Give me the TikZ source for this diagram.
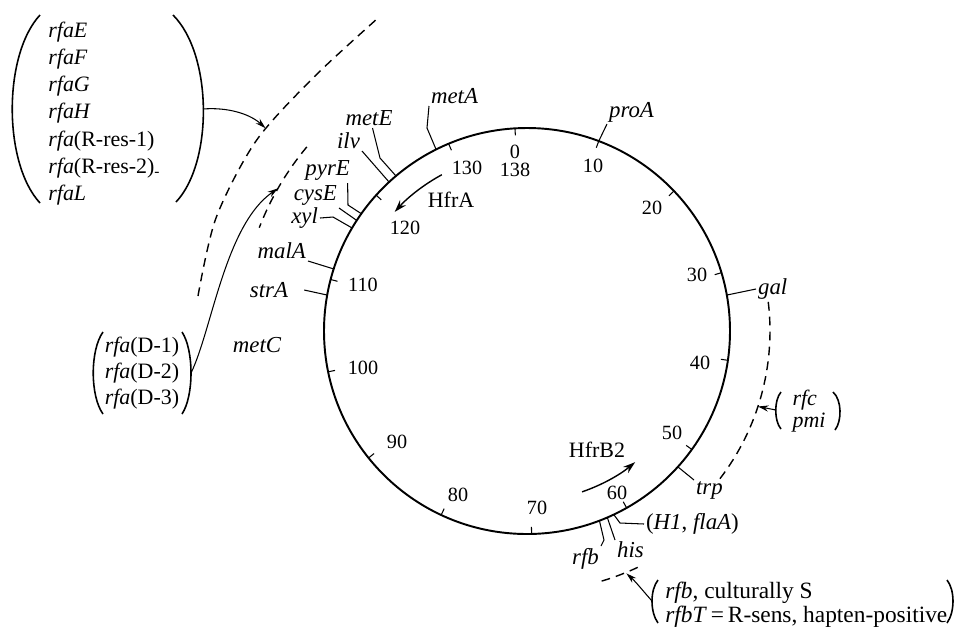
\documentclass[tikz,border=0pt]{standalone}
\usepackage{fontspec}
\setmainfont{Liberation Serif}
\usepackage{tikz}
\usetikzlibrary{arrows.meta}
\newcommand{\genesize}{\fontsize{13}{15}\selectfont}
\newcommand{\numsize}{\fontsize{11.5}{12}\selectfont}

\begin{document}
\begin{tikzpicture}[
        x=0.02cm, y=-0.02cm,
        gene/.style={font=\genesize\itshape, inner sep=1pt},
        num/.style={font=\numsize, inner sep=0pt},
        hfr/.style={font=\fontsize{12.5}{14}\selectfont, inner sep=0pt},
        rfalist/.style={align=left, inner sep=0pt, font=\fontsize{12.5}{15.4}\selectfont},
        marker/.style={line width=0.6pt},
        region/.style={line width=0.8pt, dash pattern=on 5pt off 3.5pt},
        paren/.style={line width=0.9pt},
        pointer/.style={line width=0.6pt, -{Stealth[length=6pt,width=3.5pt]}},
        transfer/.style={line width=0.8pt, -{Stealth[length=7pt,width=4.5pt]}}
    ]
    \useasboundingbox (0,0) rectangle (954,627);

    \begin{scope}[shift={(527,331)}]
        \draw[line width=1.1pt] (0,0) circle[radius=203];
        \foreach \a in {-93.4,-69.3,-43.6,-16.7,8.3,35.7,60.6,88.7,115,141.3,168.4,194.7,222,247.3}
            \draw[marker] (\a:196) -- (\a:203);
        \foreach \g/\a in {ProA/-69.3, MetA/-116.6, MetE/-130.2, Ilv/-132.8, PyrE/-144.7, CysE/-147, Xyl/-149.5, MalA/-162.2, StrA/-169.8, Gal/-10.2, Trp/42, FlaA/64.7, His/66.7, Rfb/69.1}
            \coordinate (p\g) at (\a:203);
        \draw[transfer] (-118.6:178) arc[start angle=-118.6, end angle=-138, radius=178];
        \draw[transfer] (71.1:170) arc[start angle=71.1, end angle=50.5, radius=170];
        \draw[region] (-6.9:243) arc[start angle=-6.9, end angle=37.6, radius=243];
        \draw[region] (64.9:261) arc[start angle=64.9, end angle=73.4, radius=261];
        \draw[region] (-140.1:287) arc[start angle=-140.1, end angle=-158.9, radius=287];
        \coordinate (rfcTip) at (18.1:243);
        \coordinate (rfbTip) at (67.7:262);
        \coordinate (innerTip) at (-150.2:287);
        \coordinate (outerTip) at (-142.2:331);
    \end{scope}
    \draw[region] plot[smooth] coordinates {(198,296) (216,218) (256,141) (314,77) (378,18)};

    \foreach \n/\px/\py in {10/593/166, 20/652/208, 30/697/275, 40/700/363, 50/672/433, 60/617/493, 70/537/508, 80/458/495, 90/397/442, 100/363/368, 110/363/285, 120/405/228, 130/467/168}
        \node[num] (t\n) at (\px,\py) {\n};
    \node[num] (t0) at (515,152) {0};
    \node[num] (t138) at (515,170) {138};

    \node[hfr] (hfrA) at (451,200) {HfrA};
    \node[hfr] (hfrB) at (597,450) {HfrB2};

    \node[gene, anchor=south west] (proA) at (607,124) {proA};
    \node[gene, anchor=south west] (metA) at (429,106) {metA};
    \node[gene, anchor=south] (metE) at (369,128) {metE};
    \node[gene, anchor=south east] (ilv) at (362,151) {ilv};
    \node[gene, anchor=south east] (pyrE) at (352,183) {pyrE};
    \node[gene, anchor=south east] (cysE) at (339,208) {cysE};
    \node[gene, anchor=east] (xyl) at (320,218) {xyl};
    \node[gene, anchor=south east] (malA) at (308,261) {malA};
    \node[gene] (strA) at (269,290) {strA};
    \node[gene] (metC) at (257,345) {metC};
    \node[gene, anchor=west] (gal) at (756,289) {gal};
    \node[gene, anchor=north west] (trp) at (694,480) {trp};
    \node[gene, anchor=west, font=\genesize] (flaA) at (644,524) {(\textit{H1}, \textit{flaA})};
    \node[gene, anchor=north west] (his) at (615,540) {his};
    \node[gene, anchor=north east] (rfb) at (601,546) {rfb};

    \draw[marker] (pProA) -- (proA.south west);
    \draw[marker] (pMetA) -- (427,128) -- (metA.south west);
    \draw[marker] (pMetE) -- (380,158) -- ([xshift=2pt]metE.south);
    \draw[marker] (pIlv) -- (ilv.south east);
    \draw[marker] (pPyrE) -- (348,205) -- ([xshift=-2.5pt]pyrE.south east);
    \draw[marker] (pCysE) -- (cysE.south east);
    \draw[marker] (pXyl) -- (333,217) -- (xyl.east);
    \draw[marker] (pMalA) -- (malA.south east);
    \draw[marker] (pStrA) -- ([xshift=8pt]strA.east);
    \draw[marker] (pGal) -- (gal.west);
    \draw[marker] (pTrp) -- (trp.north west);
    \draw[marker] (pFlaA) -- (620,523) -- (flaA.west);
    \draw[marker] (pHis) -- (his.north west);
    \draw[marker] (pRfb) -- (604,540) -- (rfb.north east);

    \node[rfalist, anchor=north west] (rfaList) at (48,22) {\textit{rfaE}\\ \textit{rfaF}\\ \textit{rfaG}\\ \textit{rfaH}\\ \textit{rfa}(R-res-1)\\ \textit{rfa}(R-res-2)\textsubscript{-}\\ \textit{rfaL}};
    \draw[paren] (40,15) .. controls (3,55) and (3,163) .. (40,203);
    \draw[paren] (173,15) .. controls (213,55) and (213,163) .. (176,202);
    \coordinate (rfaOut) at (203,109);
    \draw[pointer] (rfaOut) .. controls (228,107) and (250,114) .. (outerTip);

    \node[rfalist, font=\fontsize{12.5}{15}\selectfont] (rfaD) at (142,373) {\textit{rfa}(D-1)\\ \textit{rfa}(D-2)\\ \textit{rfa}(D-3)};
    \draw[paren] (103,332) .. controls (90,350) and (90,396) .. (103,414);
    \draw[paren] (182,332) .. controls (194,350) and (194,396) .. (182,414);
    \coordinate (rfaDOut) at (191,373);
    \draw[pointer] (rfaDOut) .. controls (212,330) and (225,225) .. (innerTip);

    \node[rfalist, font=\fontsize{12.5}{12.5}\selectfont\itshape] (rfcList) at (809,411) {rfc\\ pmi};
    \draw[paren] (781,392) .. controls (774,400) and (774,421) .. (781,429);
    \draw[paren] (833,392) .. controls (842,400) and (842,421) .. (835,430);
    \coordinate (rfcOut) at (776,410);
    \draw[pointer] (rfcOut) -- (rfcTip);

    \node[rfalist, anchor=north west, font=\fontsize{13.3}{11.3}\selectfont] (rfbList) at (665,582) {\textit{rfb}, culturally S\\ \textit{rfbT}\,=\,R-sens, hapten-positive};
    \draw[paren] (658,580) .. controls (650,590) and (650,612) .. (658,623);
    \draw[paren] (947,580) .. controls (955,590) and (955,612) .. (947,623);
    \coordinate (rfbOut) at (652,601);
    \draw[pointer] (rfbOut) .. controls (644,592) and (636,582) .. (rfbTip);
\end{tikzpicture}
\end{document}
